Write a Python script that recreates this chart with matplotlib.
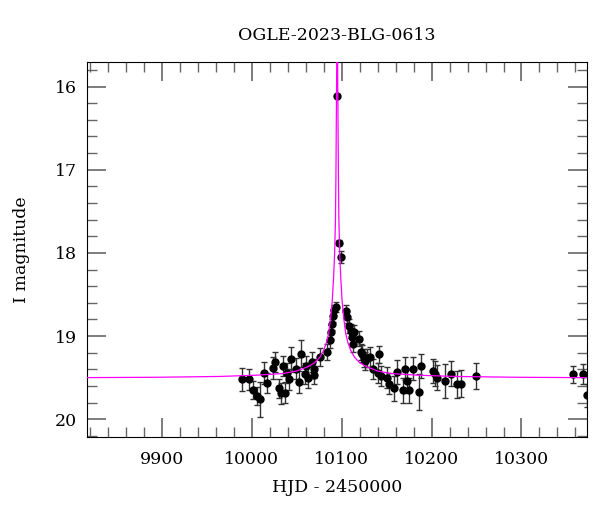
import matplotlib
matplotlib.use("Agg")
import matplotlib.pyplot as plt
from matplotlib.ticker import MultipleLocator

TITLE = "OGLE-2023-BLG-0613"

# photometry: HJD-2450000, I mag, error
hjd = [9988.9, 9997.0, 10001.8, 10005.9, 10009.6, 10014.0, 10016.7, 10023.7,
       10026.2, 10030.7, 10032.9, 10034.8, 10037.3, 10039.6, 10041.8, 10043.7,
       10049.8, 10053.1, 10054.8, 10059.8, 10060.6, 10062.6, 10066.8, 10069.2,
       10069.6, 10075.9, 10083.7, 10086.8, 10087.9, 10089.2, 10090.7, 10092.1,
       10093.3, 10095.1, 10097.0, 10098.9, 10105.3, 10106.2, 10108.1, 10110.7,
       10114.0, 10112.0, 10112.9, 10119.2, 10121.1, 10122.9, 10124.8, 10126.2,
       10128.4, 10132.0, 10135.1, 10141.8, 10140.7, 10143.7, 10150.0, 10152.2,
       10158.4, 10161.1, 10168.1, 10170.3, 10172.2, 10175.0, 10179.6, 10186.1,
       10188.4, 10201.8, 10204.0, 10206.4, 10214.8, 10221.7, 10227.8, 10232.6,
       10248.9, 10357.3, 10368.4, 10372.5]
imag = [19.52, 19.52, 19.65, 19.72, 19.76, 19.44, 19.56, 19.38,
        19.31, 19.63, 19.69, 19.36, 19.68, 19.44, 19.52, 19.28,
        19.39, 19.55, 19.21, 19.45, 19.36, 19.50, 19.31, 19.39,
        19.47, 19.25, 19.19, 19.05, 18.95, 18.86, 18.76, 18.69,
        18.65, 16.11, 17.88, 18.05, 18.70, 18.77, 18.88, 18.94,
        18.95, 19.01, 19.09, 19.03, 19.19, 19.21, 19.26, 19.30,
        19.26, 19.25, 19.39, 19.22, 19.44, 19.48, 19.50, 19.57,
        19.63, 19.43, 19.65, 19.39, 19.54, 19.65, 19.39, 19.67,
        19.36, 19.42, 19.45, 19.50, 19.54, 19.45, 19.58, 19.57,
        19.48, 19.46, 19.46, 19.71]
ierr = [0.14, 0.13, 0.11, 0.11, 0.21, 0.13, 0.12, 0.13,
        0.12, 0.12, 0.13, 0.12, 0.13, 0.12, 0.13, 0.15,
        0.13, 0.13, 0.16, 0.13, 0.12, 0.13, 0.12, 0.11,
        0.11, 0.11, 0.10, 0.09, 0.08, 0.07, 0.07, 0.06,
        0.06, 0.02, 0.03, 0.07, 0.07, 0.07, 0.08, 0.08,
        0.08, 0.09, 0.10, 0.09, 0.10, 0.10, 0.11, 0.11,
        0.11, 0.12, 0.12, 0.10, 0.12, 0.12, 0.13, 0.13,
        0.15, 0.14, 0.15, 0.14, 0.14, 0.15, 0.14, 0.22,
        0.14, 0.14, 0.15, 0.15, 0.20, 0.15, 0.16, 0.16,
        0.16, 0.10, 0.12, 0.14]

# model curve (HJD-2450000, I mag)
model_t = [9800.0, 9895.0, 9965.0, 10005.0, 10035.0, 10050.0, 10062.1, 10070.1,
           10076.1, 10080.1, 10083.1, 10085.6, 10087.6, 10089.6, 10091.1,
           10092.3, 10093.2, 10093.7, 10094.1, 10094.5, 10094.8, 10095.1,
           10095.4, 10095.7, 10096.1, 10096.5, 10097.0, 10097.9, 10099.1,
           10100.6, 10102.6, 10104.6, 10107.1, 10110.1, 10114.1, 10120.1,
           10128.1, 10140.1, 10155.0, 10185.0, 10225.0, 10295.0, 10380.0]
model_mag = [19.50, 19.495, 19.485, 19.47, 19.45, 19.42, 19.37, 19.32,
             19.25, 19.17, 19.08, 18.97, 18.80, 18.58, 18.30,
             18.00, 17.60, 17.10, 16.50, 15.90, 15.30, 15.00,
             15.30, 15.90, 16.50, 17.10, 17.60, 18.00, 18.30,
             18.58, 18.80, 18.97, 19.08, 19.17, 19.25, 19.32,
             19.37, 19.42, 19.45, 19.47, 19.485, 19.495, 19.50]

SERIF = ["DejaVu Serif"]


def main():
    plt.rcParams["font.family"] = SERIF
    fig = plt.figure(figsize=(6.0, 5.12), dpi=100)
    ax = fig.add_axes([0.145, 0.147, 0.833, 0.731])

    ax.errorbar(hjd, imag, yerr=ierr, fmt="o", color="black", ms=5,
                ecolor="0.2", elinewidth=1.0, capsize=2.5, capthick=1.0,
                zorder=2)
    ax.plot(model_t, model_mag, color="#ff00ff", lw=0.9, zorder=3)

    ax.set_xlim(9817, 10372.6)
    ax.set_ylim(20.21, 15.71)

    ax.xaxis.set_major_locator(MultipleLocator(100))
    ax.xaxis.set_minor_locator(MultipleLocator(20))
    ax.yaxis.set_major_locator(MultipleLocator(1))
    ax.yaxis.set_minor_locator(MultipleLocator(0.2))
    ax.tick_params(which="both", direction="in", top=True, right=True,
                   color="0.4", labelsize=12.5)
    ax.tick_params(which="major", length=14, width=1.2)
    ax.tick_params(which="minor", length=7, width=1.0)
    ax.tick_params(axis="x", pad=10)
    ax.tick_params(axis="y", pad=7)

    ax.set_xlabel("HJD - 2450000", fontsize=12.5, labelpad=8)
    ax.set_ylabel("I magnitude", fontsize=12.5, labelpad=18)
    ax.set_title(TITLE, fontsize=12.5, pad=16)

    fig.savefig("out.png", dpi=100)
    plt.close(fig)


if __name__ == "__main__":
    main()
